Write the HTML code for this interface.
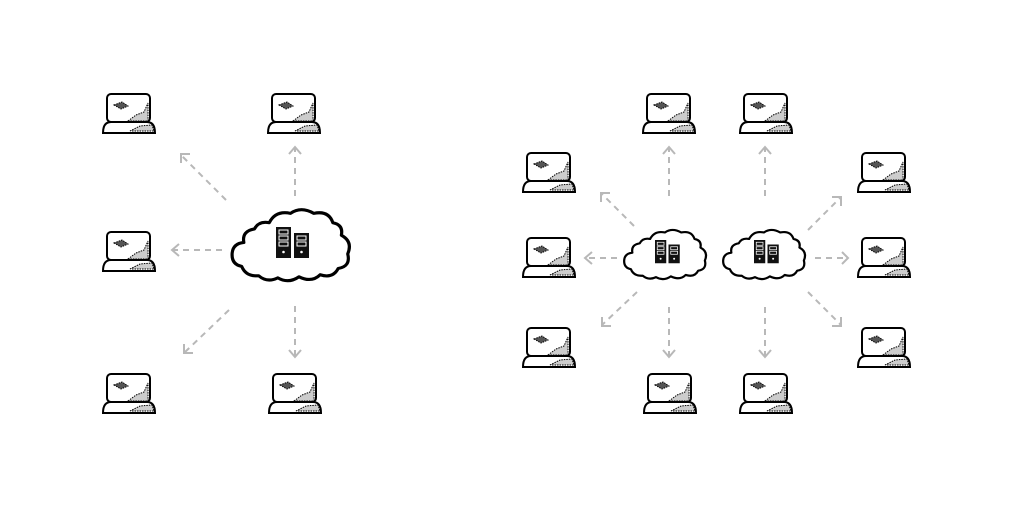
<!DOCTYPE html>
<html><head><meta charset="utf-8"><style>
html,body{margin:0;padding:0;background:#fff;}
svg{display:block;}
</style></head><body>
<svg width="1012" height="506" viewBox="0 0 1012 506" xmlns="http://www.w3.org/2000/svg">
<defs>
<g id="lap">
  <rect x="5" y="1" width="43" height="28" rx="4" fill="#fff" stroke="#000" stroke-width="2"/>
  <path d="M1 40 Q1 29 9 29 L45 29 Q53 29 53 40 Z" fill="#fff" stroke="#000" stroke-width="2"/>
  <path d="M12 12 l8 -3 l6 4 l-7 3 z" fill="#555" stroke="#000" stroke-width="1" stroke-dasharray="1.5 1"/>
  <path d="M26 28 l8 -6 l8 -3 l4 -9 l0 18 z" fill="#ccc" stroke="#000" stroke-width="1" stroke-dasharray="1.5 1"/>
  <path d="M28 38 l10 -5 l12 -1 l2 6 z" fill="#ccc" stroke="#000" stroke-width="1" stroke-dasharray="1.5 1"/>
</g>
<g id="cloudshape">
  <path d="M12 60 Q2 58 3 47 Q4 38 14 37 Q12 26 24 24 Q28 16 38 18 Q44 6 58 9 Q68 2 80 9 Q94 6 98 18 Q108 20 106 30 Q117 36 112 48 Q115 60 103 62 Q98 72 86 68 Q78 76 66 70 Q56 77 46 71 Q36 76 28 69 Q16 70 12 60 Z" fill="#fff" stroke="#000" stroke-width="3" stroke-linejoin="round"/>
</g>
<g id="servers">
  <rect x="0" y="0" width="15" height="31" fill="#111"/>
  <rect x="18" y="6" width="15" height="25" fill="#111"/>
  <rect x="3" y="3" width="9" height="4" fill="none" stroke="#fff" stroke-width="1"/>
  <rect x="3" y="9" width="9" height="4" fill="none" stroke="#fff" stroke-width="1"/>
  <rect x="3" y="15" width="9" height="4" fill="none" stroke="#fff" stroke-width="1"/>
  <circle cx="7.5" cy="25" r="1.3" fill="#fff"/>
  <rect x="21" y="9" width="9" height="4" fill="none" stroke="#fff" stroke-width="1"/>
  <rect x="21" y="15" width="9" height="4" fill="none" stroke="#fff" stroke-width="1"/>
  <circle cx="25.5" cy="25" r="1.3" fill="#fff"/>
</g>
</defs>

<use href="#lap" x="102" y="93"/>
<use href="#lap" x="267" y="93"/>
<use href="#lap" x="102" y="231"/>
<use href="#lap" x="102" y="373"/>
<use href="#lap" x="268" y="373"/>

<use href="#lap" x="642" y="93"/>
<use href="#lap" x="739" y="93"/>
<use href="#lap" x="522" y="152"/>
<use href="#lap" x="857" y="152"/>
<use href="#lap" x="522" y="237"/>
<use href="#lap" x="857" y="237"/>
<use href="#lap" x="522" y="327"/>
<use href="#lap" x="857" y="327"/>
<use href="#lap" x="643" y="373"/>
<use href="#lap" x="739" y="373"/>

<use href="#cloudshape" transform="translate(229,204) scale(1.06,1.04)"/>
<use href="#servers" transform="translate(276,227)"/>
<use href="#cloudshape" transform="translate(622,226) scale(0.74,0.72)"/>
<use href="#servers" transform="translate(655,240) scale(0.75)"/>
<use href="#cloudshape" transform="translate(721,226) scale(0.74,0.72)"/>
<use href="#servers" transform="translate(754,240) scale(0.75)"/>

<g fill="none" stroke="#b8b8b8" stroke-width="2" stroke-dasharray="6 5">
  <line x1="295" y1="196" x2="295" y2="148"/>
  <line x1="222" y1="250" x2="173" y2="250"/>
  <line x1="295" y1="306" x2="295" y2="356"/>
  <line x1="226" y1="200" x2="181" y2="155"/>
  <line x1="229" y1="310" x2="184" y2="353"/>
  <line x1="669" y1="196" x2="669" y2="148"/>
  <line x1="765" y1="196" x2="765" y2="148"/>
  <line x1="669" y1="307" x2="669" y2="356"/>
  <line x1="765" y1="307" x2="765" y2="356"/>
  <line x1="617" y1="258" x2="586" y2="258"/>
  <line x1="815" y1="258" x2="847" y2="258"/>
  <line x1="634" y1="226" x2="601" y2="193"/>
  <line x1="637" y1="292" x2="602" y2="325"/>
  <line x1="808" y1="230" x2="841" y2="197"/>
  <line x1="808" y1="292" x2="841" y2="325"/>
</g>
<g fill="none" stroke="#b8b8b8" stroke-width="2">
  <polyline points="289,154 295,147 301,154"/>
  <polyline points="179,244 172,250 179,256"/>
  <polyline points="289,350 295,357 301,350"/>
  <polyline points="181,163 181,154 190,154"/>
  <polyline points="184,344 184,353 193,353"/>
  <polyline points="663,154 669,147 675,154"/>
  <polyline points="759,154 765,147 771,154"/>
  <polyline points="663,350 669,357 675,350"/>
  <polyline points="759,350 765,357 771,350"/>
  <polyline points="592,252 585,258 592,264"/>
  <polyline points="842,252 848,258 842,264"/>
  <polyline points="601,202 601,193 610,193"/>
  <polyline points="602,317 602,326 611,326"/>
  <polyline points="832,197 841,197 841,206"/>
  <polyline points="832,326 841,326 841,317"/>
</g>
</svg>
</body></html>
